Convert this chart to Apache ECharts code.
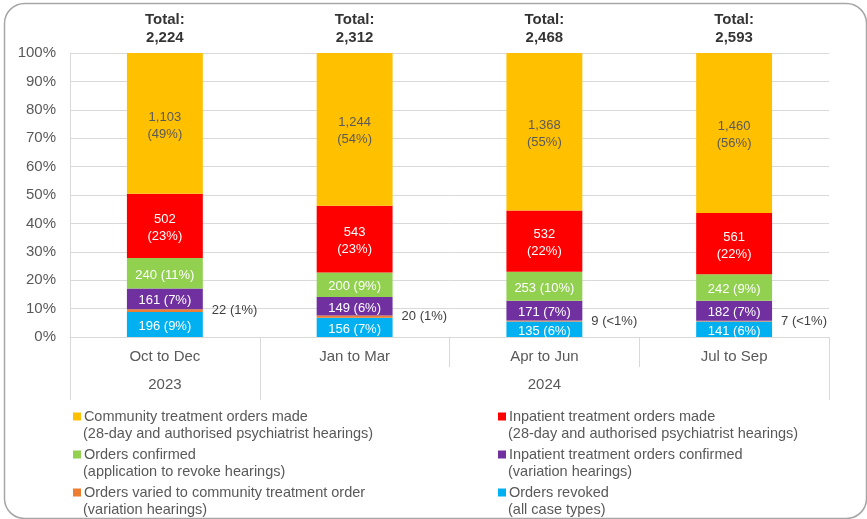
<!DOCTYPE html>
<html>
<head>
<meta charset="utf-8">
<script src="https://cdn.jsdelivr.net/npm/echarts@6/dist/echarts.min.js"></script>
<style>
    html, body { margin: 0; padding: 0; background: #fff; }
    #chart { width: 867px; height: 519px; }
</style>
</head>
<body>
<div id="chart"></div>
<script>
// 季度 / 年份
var quarters = ["Oct to Dec", "Jan to Mar", "Apr to Jun", "Jul to Sep"];
var years = ["2023", "2024"];
var totals = [2224, 2312, 2468, 2593];

// 各系列数值（自下而上）
var revoked = [196, 156, 135, 141];
var varied = [22, 20, 9, 7];
var inpatientConfirmed = [161, 149, 171, 182];
var ordersConfirmed = [240, 200, 253, 242];
var inpatientMade = [502, 543, 532, 561];
var communityMade = [1103, 1244, 1368, 1460];

// 图中标注的百分比
var revokedPct = ["9%", "7%", "6%", "6%"];
var variedPct = ["1%", "1%", "<1%", "<1%"];
var inpatientConfirmedPct = ["7%", "6%", "7%", "7%"];
var ordersConfirmedPct = ["11%", "9%", "10%", "9%"];
var inpatientMadePct = ["23%", "23%", "22%", "22%"];
var communityMadePct = ["49%", "54%", "55%", "56%"];

var yTicks = [0, 10, 20, 30, 40, 50, 60, 70, 80, 90, 100];

var fmt = function (n) {
    return n.toLocaleString("en-US");
};

var seriesDefs = [
    { name: "Orders revoked", sub: "(all case types)", values: revoked, pct: revokedPct, color: "#00B0F0", two: false },
    { name: "Orders varied to community treatment order", sub: "(variation hearings)", values: varied, pct: variedPct, color: "#ED7D31", two: false, outside: true },
    { name: "Inpatient treatment orders confirmed", sub: "(variation hearings)", values: inpatientConfirmed, pct: inpatientConfirmedPct, color: "#7030A0", two: false },
    { name: "Orders confirmed", sub: "(application to revoke hearings)", values: ordersConfirmed, pct: ordersConfirmedPct, color: "#92D050", two: false },
    { name: "Inpatient treatment orders made", sub: "(28-day and authorised psychiatrist hearings)", values: inpatientMade, pct: inpatientMadePct, color: "#FF0000", two: true },
    { name: "Community treatment orders made", sub: "(28-day and authorised psychiatrist hearings)", values: communityMade, pct: communityMadePct, color: "#FFC000", two: true, dark: true }
];

var subNames = {};
var rich = {
    t2: { padding: [0, 0, 0, 10], fontSize: 14.5, lineHeight: 17, color: "#595959" },
    t1: { fontSize: 14.5, lineHeight: 17, color: "#595959" }
};
var seriesArr = [];
seriesDefs.forEach(function (s, i) {
    subNames[s.name] = s.sub;
    rich["sq" + i] = { width: 8, height: 8, backgroundColor: s.color, padding: 0 };
    var label;
    if (s.outside) {
        label = {
            show: true,
            position: "right",
            distance: 9,
            color: "#404040",
            fontSize: 13,
            formatter: function (p) {
                return fmt(s.values[p.dataIndex]) + " (" + s.pct[p.dataIndex] + ")";
            }
        };
    } else {
        label = {
            show: true,
            position: "inside",
            offset: [0, 2],
            color: s.dark ? "#595959" : "#fff",
            fontSize: 13,
            lineHeight: 17,
            formatter: function (p) {
                var v = fmt(s.values[p.dataIndex]);
                var pc = "(" + s.pct[p.dataIndex] + ")";
                return s.two ? v + "\n" + pc : v + " " + pc;
            }
        };
    }
    seriesArr.push({
        name: s.name,
        type: "bar",
        stack: "all",
        barWidth: "40%",
        xAxisIndex: 0,
        itemStyle: { color: s.color },
        label: label,
        data: s.values.map(function (v, j) {
            return (v / totals[j]) * 100;
        })
    });
});

// 顶部合计
seriesArr.push({
    name: "total",
    type: "scatter",
    xAxisIndex: 0,
    symbolSize: 0,
    silent: true,
    label: {
        show: true,
        position: "top",
        distance: 6,
        color: "#000",
        fontWeight: "bold",
        fontSize: 15,
        lineHeight: 18,
        formatter: function (p) {
            return "Total:\n" + fmt(totals[p.dataIndex]);
        }
    },
    data: totals.map(function () {
        return 100;
    })
});

var legendFormatter = function (name) {
    var idx = seriesDefs.findIndex(function (s) { return s.name === name; });
    return "{sq" + idx + "|}{t1|\u2009" + name + "}\n{t2|" + subNames[name] + "}";
};

var myChart = echarts.init(document.getElementById("chart"));
var option = {
    animation: false,
    textStyle: { fontFamily: "Liberation Sans, Arial, sans-serif" },
    graphic: [
        {
            type: "rect",
            left: 2,
            top: 1,
            shape: { width: 862, height: 515, r: 20 },
            style: { fill: "none", stroke: "#a6a6a6", lineWidth: 1.5 },
            silent: true,
            z: -1
        }
    ],
    grid: { left: 70, right: 38, top: 53, bottom: 182 },
    legend: [
        {
            orient: "vertical",
            left: 68,
            top: 408,
            padding: 0,
            itemGap: 4,
            itemWidth: 0,
            itemHeight: 0,
            icon: "rect",
            selectedMode: false,
            data: [seriesDefs[5].name, seriesDefs[3].name, seriesDefs[1].name],
            formatter: legendFormatter,
            textStyle: { rich: rich, padding: 0, lineHeight: 17 }
        },
        {
            orient: "vertical",
            left: 493,
            top: 408,
            padding: 0,
            itemGap: 4,
            itemWidth: 0,
            itemHeight: 0,
            icon: "rect",
            selectedMode: false,
            data: [seriesDefs[4].name, seriesDefs[2].name, seriesDefs[0].name],
            formatter: legendFormatter,
            textStyle: { rich: rich, padding: 0, lineHeight: 17 }
        }
    ],
    xAxis: [
        {
            type: "category",
            data: quarters,
            position: "bottom",
            axisLine: { lineStyle: { color: "#d9d9d9" } },
            axisTick: { show: true, length: 30, lineStyle: { color: "#d9d9d9" } },
            axisLabel: { color: "#595959", fontSize: 15, margin: 12 },
            splitLine: { show: false }
        },
        {
            type: "value",
            min: 0,
            max: 4,
            position: "bottom",
            axisLine: { show: false },
            axisTick: { show: true, length: 63, customValues: [0, 1, 4], lineStyle: { color: "#d9d9d9" } },
            axisLabel: {
                color: "#595959",
                fontSize: 15,
                margin: 40,
                customValues: [0.5, 2.5],
                formatter: function (v) {
                    return v < 1 ? years[0] : years[1];
                }
            },
            splitLine: { show: false }
        }
    ],
    yAxis: {
        type: "value",
        min: 0,
        max: 100,
        interval: 10,
        axisLine: { show: true, lineStyle: { color: "#d9d9d9" } },
        axisTick: { show: false },
        axisLabel: {
            color: "#595959",
            fontSize: 15,
            margin: 14,
            customValues: yTicks,
            formatter: "{value}%"
        },
        splitLine: { show: true, lineStyle: { color: "#d9d9d9" } }
    },
    series: seriesArr
};
myChart.setOption(option);
</script>
</body>
</html>
